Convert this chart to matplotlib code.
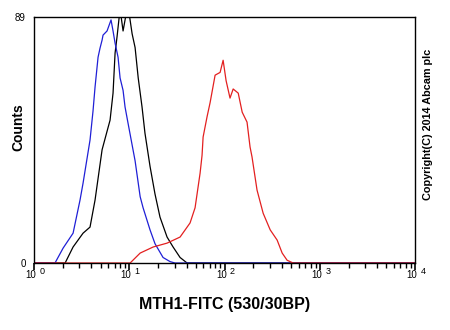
import matplotlib.pyplot as plt
from matplotlib.ticker import LogLocator, NullFormatter
from matplotlib.transforms import offset_copy

plt.rcParams['font.family'] = ['Liberation Sans', 'DejaVu Sans']

# MTH1-FITC intensity (linear units) and event counts per histogram
blue_x = [1.0, 1.66, 2.02, 2.57, 3.04, 3.27, 3.87, 4.16, 4.37, 4.70, 4.93, 5.18,
          5.30, 5.84, 6.43, 6.75, 7.09, 7.62, 8.00, 8.60, 9.02, 9.70, 11.5, 13.0,
          13.95, 16.5, 18.6, 22.6, 26.8, 30.2, 10000]
blue_y = [0, 0, 5.4, 10.8, 22.8, 28.9, 44.5, 55, 63.7, 74.5, 77.8, 80.7,
          82.5, 84, 88, 84, 79.6, 74.5, 67, 62.5, 56.5, 50.6, 37, 24,
          20, 12, 7, 2, 0.5, 0, 0]

black_x = [1.0, 2.12, 2.57, 3.27, 3.87, 4.37, 5.18, 5.98, 6.28, 6.75, 7.09, 7.44,
           8.00, 8.60, 9.47, 9.70, 10.7, 11.5, 12.4, 13.6, 14.6, 16.5, 18.6,
           21.0, 24.9, 28.8, 34.1, 40.4, 10000]
black_y = [0, 0, 5.8, 10.8, 13, 22.8, 41, 49, 51.7, 61.5, 76, 82,
           92, 84, 92, 93, 83, 78, 67, 56.5, 47, 35, 25,
           16.6, 9.4, 5.8, 2, 0, 0]

red_x = [1.0, 10.2, 13.0, 17.8, 24.9, 34.1, 43.4, 49.0, 55.3, 58.0, 59.5, 65.5,
         70.4, 79.5, 89.7, 96.5, 103.7, 114, 123, 139, 153, 172, 185, 194,
         219, 254, 301, 356, 402, 453, 524, 10000]
red_y = [0, 0, 3.6, 5.8, 7.2, 9.4, 14.5, 20, 32.5, 39, 45.6, 53,
         58, 68, 69, 73.4, 66, 59.7, 63, 61.5, 54.6, 51, 42, 38.4,
         26.4, 18, 12, 8.3, 3.6, 1, 0, 0]

decades = [0, 1, 2, 3, 4]
y_max = 89

fig = plt.figure(figsize=(4.5, 3.3), dpi=100)
ax = fig.add_axes([0.0756, 0.203, 0.847, 0.745])

ax.plot(black_x, black_y, color='black', lw=0.9)
ax.plot(blue_x, blue_y, color='#1f1fd6', lw=0.9)
ax.plot(red_x, red_y, color='#e32020', lw=0.9)

ax.set_xscale('log')
ax.set_xlim(1, 10000)
ax.set_ylim(0, y_max)

for s in ax.spines.values():
    s.set_linewidth(1.0)

ax.set_yticks([0, y_max])
ax.set_yticklabels(['0', str(y_max)], fontsize=7)
ax.tick_params(axis='y', length=0, pad=6)

ax.set_xticks([10 ** d for d in decades])
ax.set_xticklabels([])
ax.xaxis.set_minor_locator(LogLocator(base=10, subs=range(2, 10), numticks=20))
ax.xaxis.set_minor_formatter(NullFormatter())
ax.tick_params(axis='x', which='major', direction='out', length=5, width=1.2, color='black')
ax.tick_params(axis='x', which='minor', direction='out', length=3.5, width=1.0, color='black')

# "10" with a raised exponent under each decade
for d in decades:
    base_tr = offset_copy(ax.get_xaxis_transform(), fig=fig, x=1.5, y=-8.3, units='points')
    ax.text(10 ** d, 0, '10', transform=base_tr, ha='right', va='center', fontsize=7)
    exp_tr = offset_copy(ax.get_xaxis_transform(), fig=fig, x=3.8, y=-5.8, units='points')
    ax.text(10 ** d, 0, str(d), transform=exp_tr, ha='left', va='center', fontsize=6.5)

fig.text(225 / 450, 1 - 304 / 330, 'MTH1-FITC (530/30BP)', ha='center', va='center',
         fontsize=11.5, fontweight='bold')
fig.text(18 / 450, 1 - 127 / 330, 'Counts', ha='center', va='center', rotation=90,
         fontsize=10, fontweight='bold')
fig.text(428 / 450, 1 - 124 / 330, 'Copyright(C) 2014 Abcam plc', ha='center', va='center',
         rotation=90, fontsize=7.8, fontweight='bold')

fig.savefig('out.png', dpi=100)
